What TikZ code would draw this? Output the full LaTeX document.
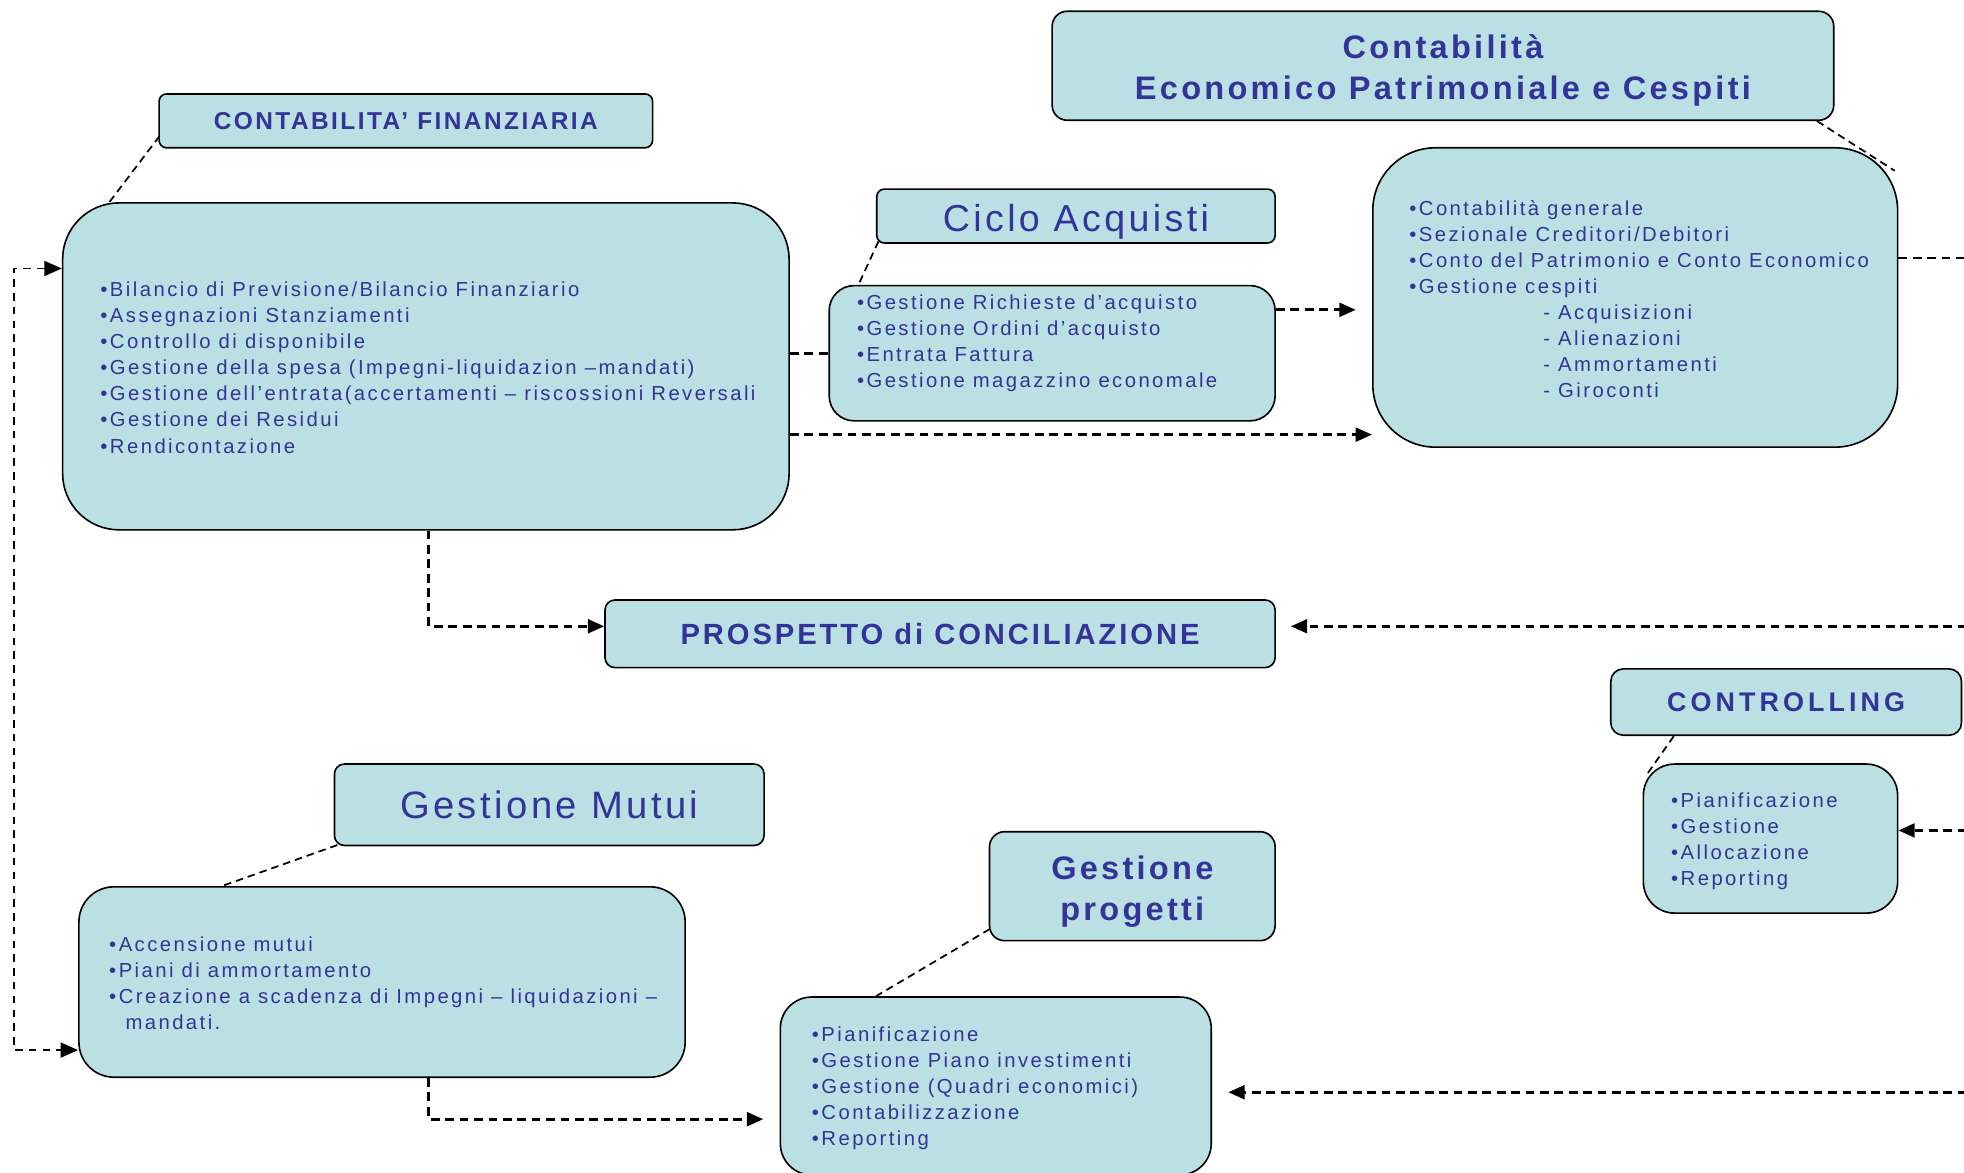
\documentclass[tikz,border=0pt]{standalone}
\usepackage{fontspec}
\setmainfont{Liberation Sans}
\usetikzlibrary{arrows.meta,calc}
\newfontfamily\bodyf[LetterSpace=12]{Liberation Sans}
\newfontfamily\titf[LetterSpace=9]{Liberation Sans}
\newfontfamily\boldf[LetterSpace=10]{Liberation Sans}
\newfontfamily\boldw[LetterSpace=15]{Liberation Sans}
\definecolor{boxfill}{RGB}{187,224,227}
\definecolor{txtblue}{RGB}{51,51,153}
\tikzset{
 box/.style={draw=black, line width=1.3pt, fill=boxfill, inner sep=0pt, text=txtblue, align=center},
 ttl/.style={text=txtblue, align=center, inner sep=0pt},
 body/.style={text=txtblue, align=left, inner sep=0pt, font=\bodyf\fontsize{16.2}{20.8}\selectfont},
 link/.style={line width=1.4pt, dash pattern=on 6pt off 4pt},
 flow/.style={line width=2.3pt, dash pattern=on 7pt off 4.5pt},
 arr/.style={flow, -{Triangle[length=13pt,width=11pt]}},
 loopline/.style={line width=1.5pt, dash pattern=on 6pt off 5pt, {Triangle[length=14pt,width=12pt]}-{Triangle[length=14pt,width=12pt]}},
}
\begin{document}
\begin{tikzpicture}[x=1pt,y=-1pt]
\useasboundingbox (0,0) rectangle (1568,936);
\clip (0,0) rectangle (1568,936);

% Contabilita finanziaria
\node[box, rounded corners=6pt, minimum width=394pt, minimum height=43pt, font=\boldf\bfseries\fontsize{19.5}{23}\selectfont] (fint) at (324,96.5) {CONTABILITA’ FINANZIARIA};
\node[box, rounded corners=45pt, minimum width=580pt, minimum height=261pt] (fin) at (340,292.5) {};
\node[body, anchor=west] (fintx) at (80,293.5) {•Bilancio di Previsione/Bilancio Finanziario\\•Assegnazioni Stanziamenti\\•Controllo di disponibile\\•Gestione della spesa (Impegni-liquidazion –mandati)\\•Gestione dell’entrata(accertamenti – riscossioni Reversali\\•Gestione dei Residui\\•Rendicontazione};

% Ciclo acquisti
\node[box, rounded corners=6pt, minimum width=318pt, minimum height=43pt] (ciclot) at (859,172.5) {};
\node[ttl, font=\titf\fontsize{30}{34}\selectfont] (ciclol) at (859,177) {Ciclo Acquisti};
\node[box, rounded corners=20pt, minimum width=356pt, minimum height=108pt] (ciclo) at (840,282) {};
\node[body, anchor=west] (ciclotx) at (684,274) {•Gestione Richieste d’acquisto\\•Gestione Ordini d’acquisto\\•Entrata Fattura\\•Gestione magazzino economale};

% Contabilita EP
\node[box, rounded corners=12pt, minimum width=624pt, minimum height=87pt] (ept) at (1152,52.5) {};
\node[ttl, font=\boldf\bfseries\fontsize{26}{33}\selectfont] (eptl) at (1152,56.5) {Contabilità\\Economico Patrimoniale e Cespiti};
\node[box, rounded corners=50pt, minimum width=419pt, minimum height=239pt] (ep) at (1305.5,237.5) {};
\node[body, anchor=west] (eptx) at (1125,239) {•Contabilità generale\\•Sezionale Creditori/Debitori\\•Conto del Patrimonio e Conto Economico\\•Gestione cespiti\\\hspace*{107pt}- Acquisizioni\\\hspace*{107pt}- Alienazioni\\\hspace*{107pt}- Ammortamenti\\\hspace*{107pt}- Giroconti};

% Prospetto
\node[box, rounded corners=8pt, minimum width=535pt, minimum height=54pt, font=\boldf\bfseries\fontsize{23.3}{27}\selectfont] (pros) at (750.5,506) {PROSPETTO di CONCILIAZIONE};

% Controlling
\node[box, rounded corners=10pt, minimum width=280pt, minimum height=53pt, font=\boldw\bfseries\fontsize{21.5}{25}\selectfont] (ctrlt) at (1426,560.5) {CONTROLLING};
\node[box, rounded corners=25pt, minimum width=203pt, minimum height=119pt] (ctrl) at (1413.5,669.5) {};
\node[body, anchor=west] (ctrltx) at (1334,671.5) {•Pianificazione\\•Gestione\\•Allocazione\\•Reporting};

% Mutui
\node[box, rounded corners=8pt, minimum width=343pt, minimum height=65pt, font=\titf\fontsize{30.5}{35}\selectfont] (mutt) at (438.5,642.5) {Gestione Mutui};
\node[box, rounded corners=28pt, minimum width=484pt, minimum height=152pt] (mut) at (305,784) {};
\node[body, anchor=west] (muttx) at (87,785) {•Accensione mutui\\•Piani di ammortamento\\•Creazione a scadenza di Impegni – liquidazioni –\\\hspace*{13pt}mandati.};

% Progetti
\node[box, rounded corners=12pt, minimum width=228pt, minimum height=87pt] (prgt) at (904,707.5) {};
\node[ttl, font=\boldf\bfseries\fontsize{26}{33}\selectfont] (prgtl) at (904,712) {Gestione\\progetti};
\node[box, rounded corners=25pt, minimum width=344pt, minimum height=142pt] (prg) at (795,867) {};
\node[body, anchor=west] (prgtx) at (648,869) {•Pianificazione\\•Gestione Piano investimenti\\•Gestione (Quadri economici)\\•Contabilizzazione\\•Reporting};

% title links
\draw[link] ($(fint.south west)+(1,-10)$) -- ($(fin.north west)+(38,0)$);
\draw[link] ($(ciclot.south west)+(2,-2)$) -- ($(ciclo.north west)+(24,0)$);
\draw[link] ($(ept.south east)+(-14,0)$) -- ($(ep.north east)+(-3,19)$);
\draw[link] ($(ctrlt.south west)+(51,0)$) -- ($(ctrl.north west)+(2,11)$);
\draw[link] ($(mutt.south west)+(3,-1)$) -- ($(mut.north west)+(115,0)$);
\draw[link] ($(prgt.south west)+(1,-10)$) -- ($(prg.north west)+(77,0)$);

% right edge free ends
\coordinate (r1) at (1570,500);
\coordinate (r2) at (1570,206);
\coordinate (r3) at (1570,663);
\coordinate (r4) at (1570,872);

% flows
\draw[flow] (ciclo.west -| fin.east) -- (ciclo.west);
\draw[arr] ($(ciclo.north east)+(0,20)$) -- ($(ep.west |- ciclo.north east)+(-13,20)$);
\draw[arr] ($(fin.east)+(0,54.5)$) -- ($(ep.west |- fin.east)+(0,54.5)$);
\draw[arr] ($(fin.south west)+(293,0)$) |- ($(pros.west)+(0,-6)$);
\draw[arr] (r1) -- ($(pros.east)+(12,-6)$);
\draw[flow] (ep.east |- r2) -- (r2);
\draw[arr] (r3) -- (ctrl.east |- r3);
\draw[arr] (r4) -- ($(prg.east |- r4)+(13,0)$);
\draw[arr] ($(mut.south west)+(280,0)$) |- ($(prg.west)+(-13,26.5)$);
\draw[loopline] ($(fin.north west)+(0,53)$) -- ++(-38,0) |- ($(mut.north west)+(0,131)$);
\end{tikzpicture}
\end{document}
